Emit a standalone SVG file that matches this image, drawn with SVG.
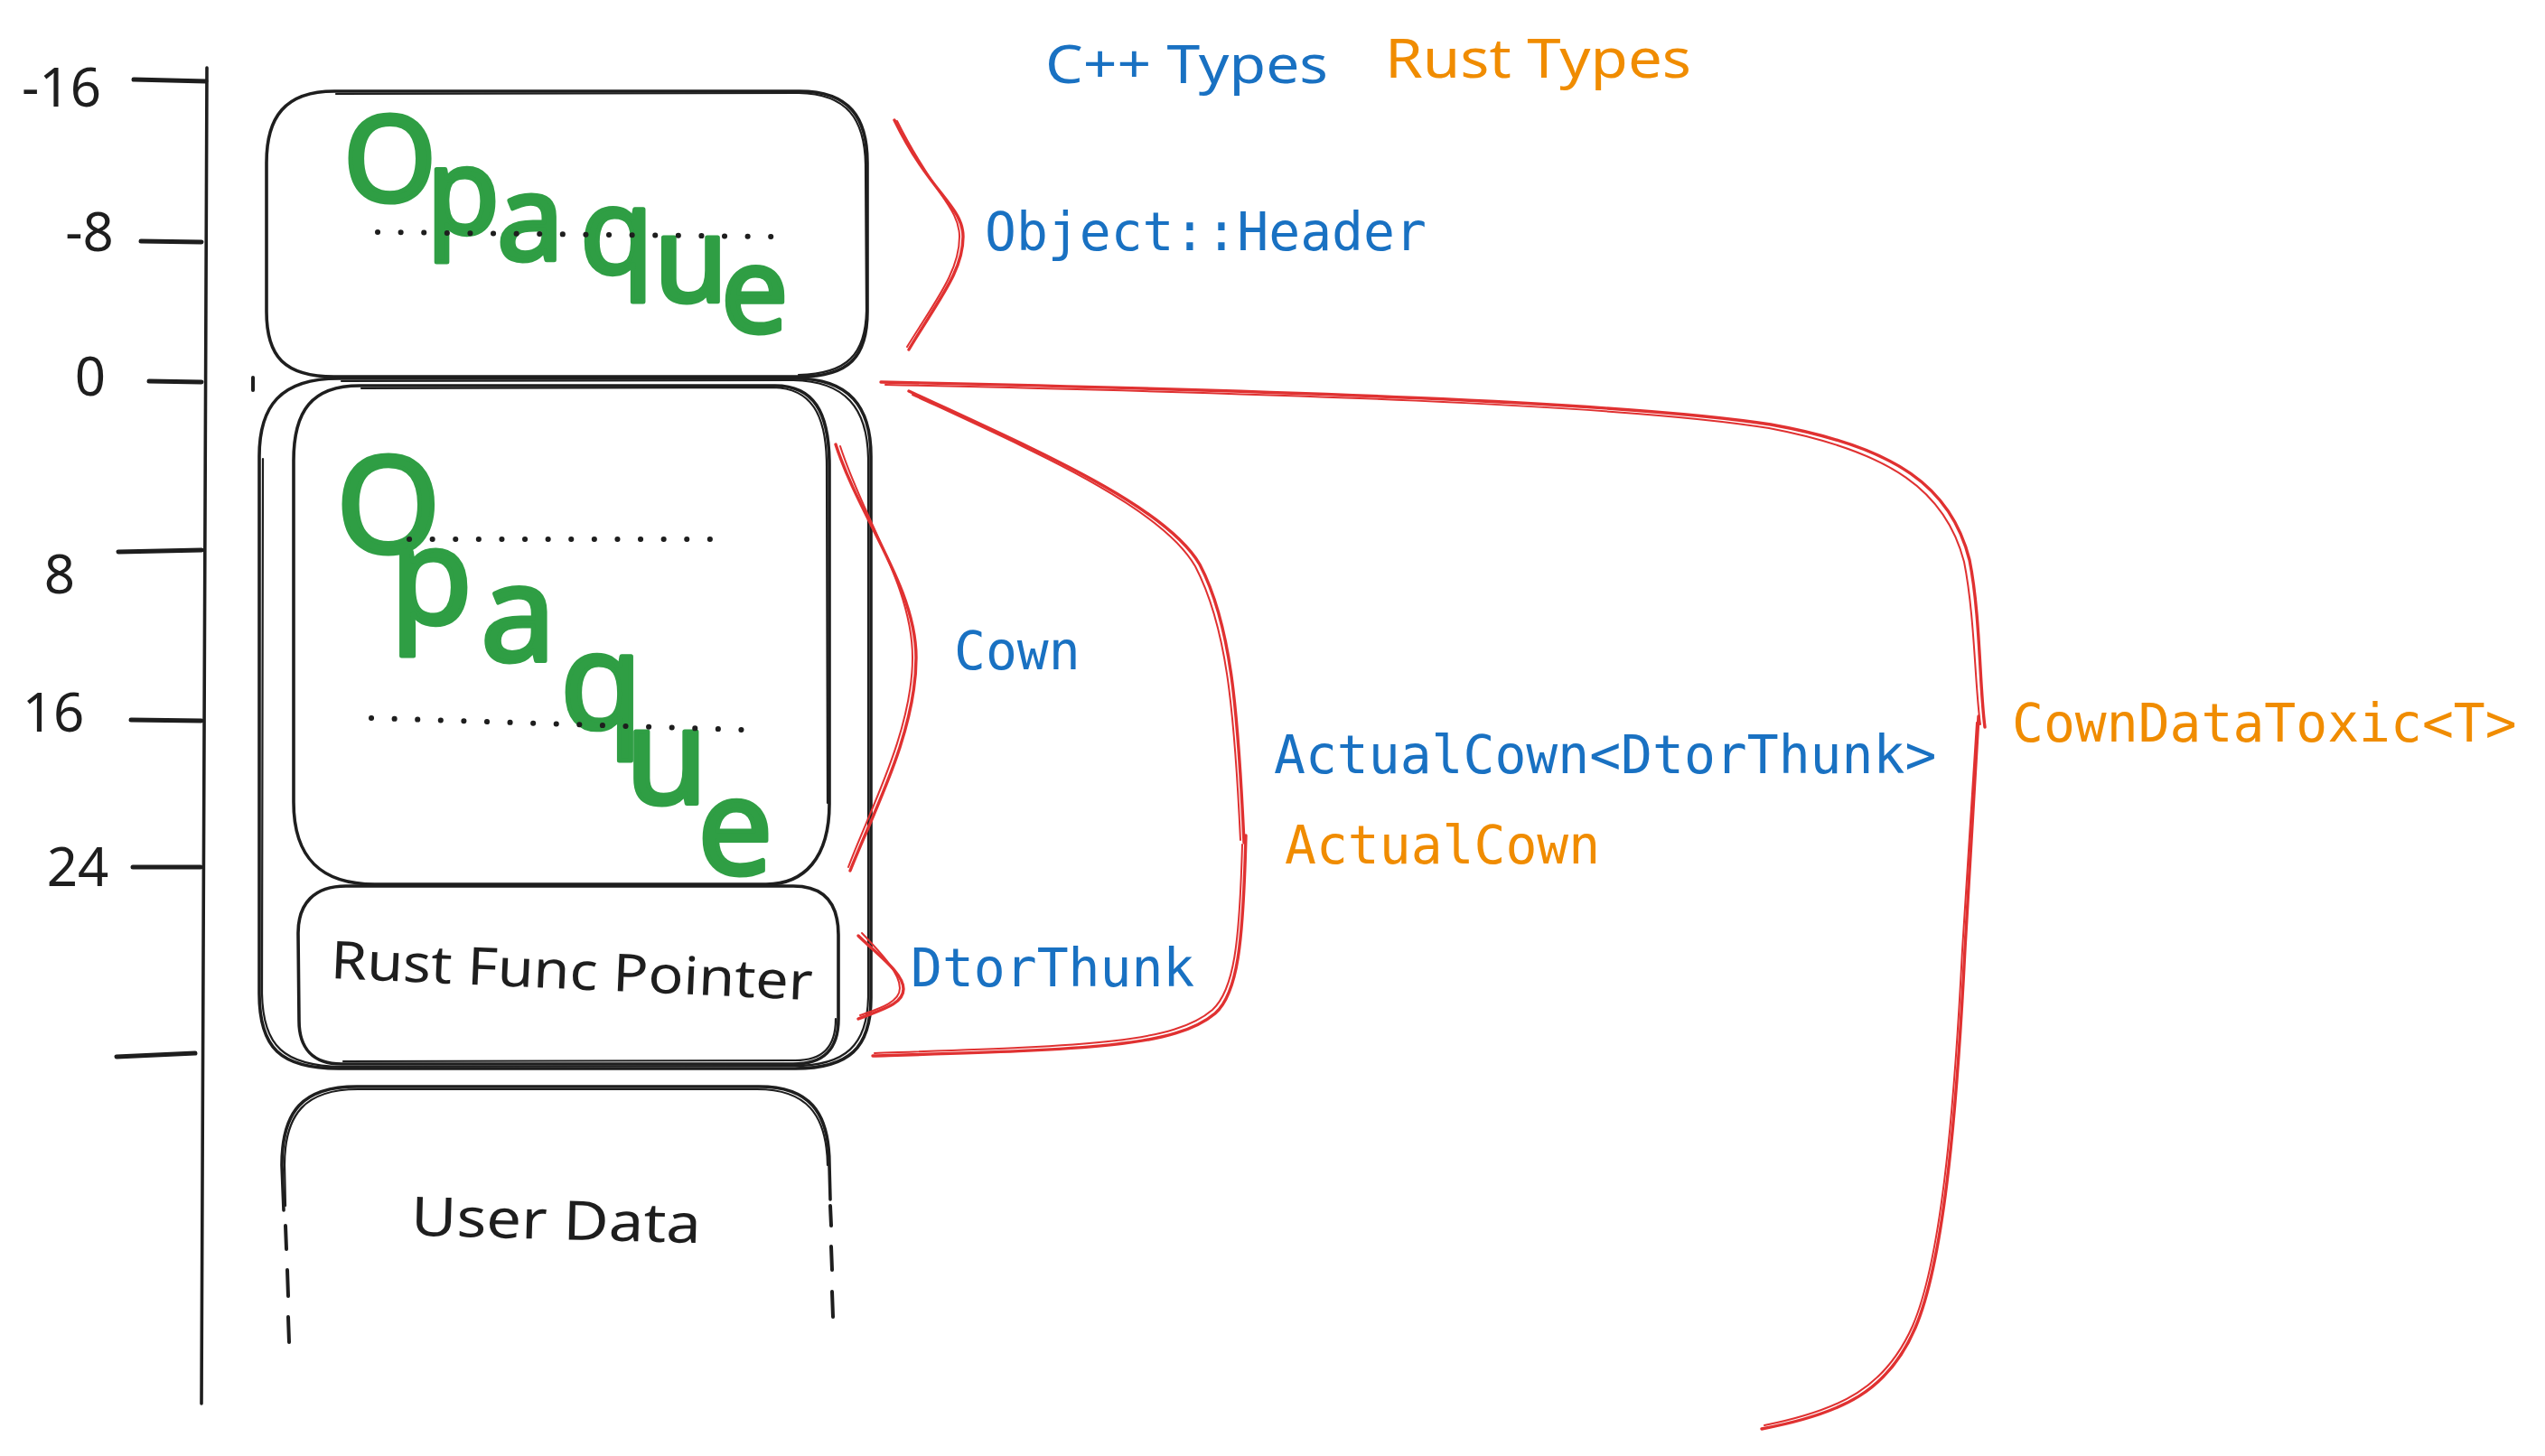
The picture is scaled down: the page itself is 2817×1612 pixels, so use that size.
<svg xmlns="http://www.w3.org/2000/svg" width="2817" height="1612" viewBox="0 0 2817 1612">
<style>
.bg{fill:#ffffff}
.ink{fill:none;stroke:#1e1e1e;stroke-width:3.6;stroke-linecap:round;stroke-linejoin:round}
.ink2{fill:none;stroke:#1e1e1e;stroke-width:2.2;stroke-linecap:round;stroke-linejoin:round}
.tick{fill:none;stroke:#1e1e1e;stroke-width:5;stroke-linecap:round}
.dots{fill:none;stroke:#1e1e1e;stroke-width:6;stroke-linecap:round;stroke-dasharray:0.1 25.5}
.red{fill:none;stroke:#e03131;stroke-width:3.4;stroke-linecap:round;stroke-linejoin:round}
.red2{fill:none;stroke:#e03131;stroke-width:2;stroke-linecap:round;stroke-linejoin:round}
.hand{font-family:"Noto Sans","DejaVu Sans",sans-serif;fill:#1e1e1e}
.num{font-family:"Noto Sans","DejaVu Sans",sans-serif;fill:#1e1e1e;font-size:60px;text-anchor:middle}
.opq{font-family:"Noto Sans","DejaVu Sans",sans-serif;fill:#2f9e44;stroke:#2f9e44;stroke-width:5;stroke-linejoin:round;font-weight:400}
.code{font-family:"DejaVu Sans Mono","Liberation Mono",monospace;font-size:58px}
.blue{fill:#1971c2}
.orange{fill:#f08c00}
</style>
<rect class="bg" x="0" y="0" width="2817" height="1612"/>

<g id="axis">
  <path class="ink" d="M229,75 L223,1554"/>
  <path class="tick" d="M148,88 L228,90"/>
  <path class="tick" d="M156,267 L223,268"/>
  <path class="tick" d="M165,422 L223,423"/>
  <path class="tick" d="M131,611 L223,609"/>
  <path class="tick" d="M145,797 L223,798"/>
  <path class="tick" d="M147,960 L222,960"/>
  <path class="tick" d="M129,1170 L216,1166"/>
  <path class="tick" d="M280,418 L280,432" style="stroke-width:4"/>
  <text class="num" x="68" y="118">-16</text>
  <text class="num" x="99" y="278">-8</text>
  <text class="num" x="100" y="438">0</text>
  <text class="num" x="66" y="657">8</text>
  <text class="num" x="59" y="810">16</text>
  <text class="num" x="86" y="981">24</text>
</g>

<g id="header-box">
  <path class="ink" d="M370,101 L885,101 C940,101 960,130 960,180 L960,345 C960,395 940,417 885,417 L370,417 C315,417 295,395 295,345 L295,180 C295,130 315,101 370,101 Z"/>
  <path class="ink2" d="M372,104 L884,103 C938,104 957,132 958,182 L959,344 C958,392 938,414 884,415"/>
  <text class="opq" font-size="132" x="380 472 550 642 724 798" y="223 258 288 302 334 368">Opaque</text>
  <path class="dots" d="M418,257 L855,262"/>
</g>

<g id="actualcown-box">
  <path class="ink" d="M375,419 L880,419 C940,419 964,450 964,505 L964,1105 C964,1160 940,1183 880,1183 L375,1183 C310,1183 287,1160 287,1100 L287,505 C287,450 310,419 375,419 Z"/>
  <path class="ink2" d="M378,422 L878,421 C936,422 960,452 961,507 L961,1104 C960,1157 936,1180 879,1180 L378,1181 C314,1180 291,1158 290,1100 L291,508"/>
</g>

<g id="opaque-box">
  <path class="ink" d="M398,427 L858,427 C900,427 918,455 918,515 L918,890 C918,950 890,979 848,979 L415,979 C355,979 325,950 325,888 L325,510 C325,455 345,427 398,427 Z"/>
  <path class="ink2" d="M400,430 L856,429 C897,430 915,457 915,516 L916,889"/>
  <text class="opq" font-size="148" x="372 432 532 620 692 772" y="612 690 732 806 890 968">Opaque</text>
  <path class="dots" d="M453,597 L791,597"/>
  <path class="dots" d="M411,795 L823,808"/>
</g>

<g id="rust-func-pointer">
  <path class="ink" d="M383,981 L878,981 C912,981 928,1000 928,1035 L928,1128 C928,1162 912,1178 878,1178 L378,1178 C346,1178 331,1160 331,1130 L330,1033 C330,1000 348,981 383,981 Z"/>
  <path class="ink2" d="M380,1175 L880,1174 C910,1174 925,1160 925,1128"/>
  <text class="hand" font-size="58" x="632" y="1095" text-anchor="middle" textLength="534" lengthAdjust="spacingAndGlyphs" transform="rotate(2.6 632 1095)">Rust Func Pointer</text>
</g>

<g id="user-data">
  <path class="ink" d="M314,1340 L312,1290 C312,1230 335,1203 395,1203 L840,1203 C895,1203 918,1230 918,1290 L919,1328"/>
  <path class="ink2" d="M316,1335 L315,1290 C315,1233 338,1206 396,1206 L838,1206 C892,1206 915,1233 916,1290"/>
  <path class="tick" style="stroke-width:4" d="M316,1357 L317,1383 M318,1406 L319,1435 M319,1458 L320,1486"/>
  <path class="tick" style="stroke-width:4" d="M919,1335 L920,1357 M920,1380 L921,1406 M921,1430 L922,1458"/>
  <text class="hand" font-size="60" x="615" y="1372" text-anchor="middle" textLength="321" lengthAdjust="spacingAndGlyphs" transform="rotate(1.5 615 1372)">User Data</text>
</g>

<g id="connectors">
  <path class="red" d="M990,133 C1030,215 1066,228 1066,262 C1066,300 1040,330 1006,387"/>
  <path class="red2" d="M993,134 C1033,215 1062,230 1062,262 C1062,300 1036,332 1004,384"/>

  <path class="red" d="M925,492 C952,575 1014,650 1014,728 C1014,812 966,900 941,964"/>
  <path class="red2" d="M930,494 C956,575 1010,650 1010,728 C1010,810 962,898 939,960"/>

  <path class="red" d="M950,1036 C975,1060 1000,1078 1000,1095 C1000,1112 975,1118 950,1128"/>
  <path class="red2" d="M954,1033 C978,1058 996,1078 996,1094 C996,1110 972,1117 952,1124"/>

  <path class="red" d="M1006,433 C1150,500 1290,560 1328,625 C1362,690 1370,780 1377,933"/>
  <path class="red2" d="M1010,437 C1152,503 1286,562 1323,627 C1357,692 1366,780 1373,930"/>
  <path class="red" d="M1379,925 C1376,1045 1370,1100 1345,1122 C1300,1160 1200,1162 966,1169"/>
  <path class="red2" d="M1375,935 C1372,1045 1366,1096 1342,1118 C1298,1156 1198,1158 968,1166"/>

  <path class="red" d="M975,423 C1400,432 1800,445 1960,470 C2100,495 2160,540 2180,620 C2192,680 2191,760 2197,805"/>
  <path class="red2" d="M980,426 C1400,435 1800,448 1958,474 C2095,500 2154,545 2174,622 C2186,682 2186,762 2192,802"/>
  <path class="red" d="M2190,793 L2175,1050 C2165,1250 2150,1400 2120,1470 C2090,1540 2040,1565 1950,1582"/>
  <path class="red2" d="M2188,800 L2172,1052 C2162,1250 2147,1398 2117,1468 C2087,1536 2038,1561 1953,1578"/>
</g>

<g id="labels">
  <text class="hand blue" font-size="58" x="1157" y="92" textLength="313" lengthAdjust="spacingAndGlyphs">C++ Types</text>
  <text class="hand orange" font-size="60" x="1533" y="86" textLength="339" lengthAdjust="spacingAndGlyphs">Rust Types</text>
  <text class="code blue" x="1090" y="277">Object::Header</text>
  <text class="code blue" x="1056" y="741">Cown</text>
  <text class="code blue" x="1008" y="1092">DtorThunk</text>
  <text class="code blue" x="1410" y="856">ActualCown&lt;DtorThunk&gt;</text>
  <text class="code orange" x="1422" y="956">ActualCown</text>
  <text class="code orange" x="2227" y="821">CownDataToxic&lt;T&gt;</text>
</g>
</svg>
